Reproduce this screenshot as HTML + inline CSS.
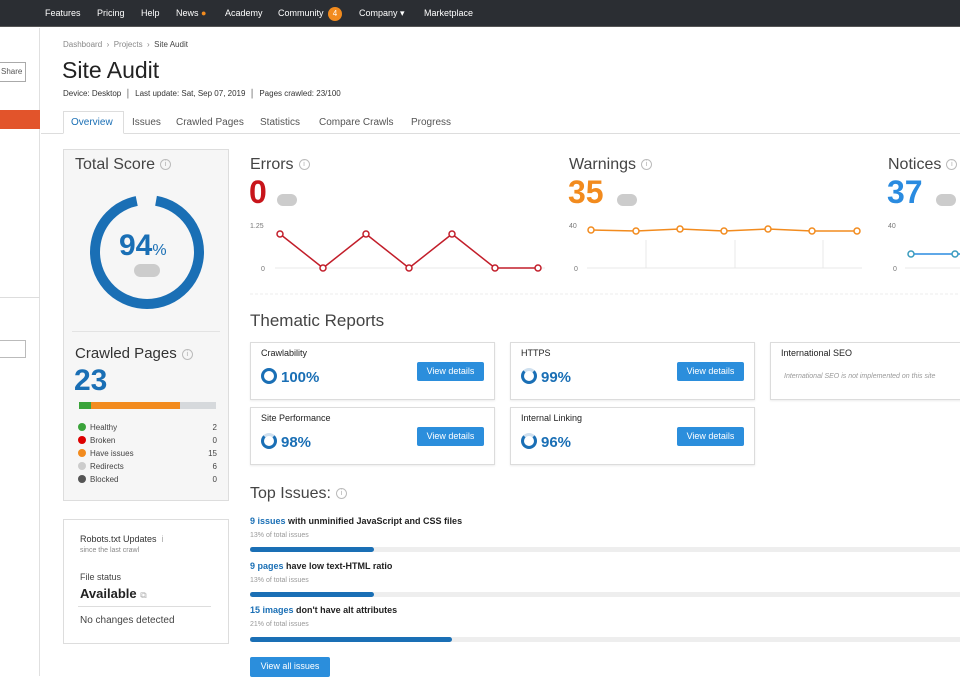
<!DOCTYPE html>
<html><head><meta charset="utf-8"><style>
*{margin:0;padding:0;box-sizing:border-box}
body{width:960px;height:676px;overflow:hidden;background:#fff;font-family:"Liberation Sans","DejaVu Sans",sans-serif;color:#333;position:relative}
.a{position:absolute;white-space:nowrap}
.nav{position:absolute;left:0;top:0;width:960px;height:27px;background:#2b2e33;border-bottom:1px solid #555}
.nav span{position:absolute;top:8px;color:#fff;font-size:9px}
.card{position:absolute;border:1px solid #dcdcdc;background:#fff;box-shadow:0 1px 2px rgba(0,0,0,.08)}
.btn{position:absolute;background:#2b8edc;color:#fff;font-size:9px;text-align:center;line-height:19px;border-radius:2px}
.info{display:inline-block;width:11px;height:11px;border:1px solid #bbb;border-radius:50%;font-size:7px;color:#aaa;text-align:center;line-height:9px;vertical-align:middle;margin-left:5px}
.pill{position:absolute;background:#ccc;border-radius:8px;width:20px;height:12px}
.ring{display:inline-block;width:16px;height:16px;border:3px solid #1a6fb5;border-radius:50%;vertical-align:-2px;margin-right:4px}
.tl{font-size:9px;color:#222}
.pct{font-size:15px;font-weight:bold;color:#1a6fb5}
.d{display:inline-block;width:8px;height:8px;border-radius:50%;margin-right:4px;vertical-align:-1px}
</style></head><body>
<div class="nav">
<span style="left:45px">Features</span><span style="left:97px">Pricing</span><span style="left:141px">Help</span><span style="left:176px">News <b style="color:#f28b1e">●</b></span><span style="left:225px">Academy</span><span style="left:278px">Community</span>
<span style="left:328px;top:7px;width:14px;height:14px;border-radius:50%;background:#f28b1e;font-size:8px;text-align:center;line-height:14px">4</span>
<span style="left:359px">Company ▾</span><span style="left:424px">Marketplace</span>
</div>
<div class="a" style="left:0;top:28px;width:40px;height:648px;background:#fff;border-right:1px solid #e0e0e0"></div>
<div class="a" style="left:-4px;top:62px;width:30px;height:20px;border:1px solid #aaa;font-size:8px;line-height:18px;padding-left:4px;color:#555">Share</div>
<div class="a" style="left:0;top:110px;width:40px;height:19px;background:#e2542b"></div>
<div class="a" style="left:0;top:297px;width:40px;border-top:1px solid #ddd"></div>
<div class="a" style="left:-2px;top:340px;width:28px;height:18px;border:1px solid #bbb"></div>

<div class="a" style="left:63px;top:40px;font-size:8px;color:#888">Dashboard &nbsp;›&nbsp; Projects &nbsp;›&nbsp; <span style="color:#444">Site Audit</span></div>
<div class="a" style="left:62px;top:57px;font-size:23px;color:#222">Site Audit</div>
<div class="a" style="left:63px;top:89px;font-size:8px;color:#333">Device: Desktop &nbsp;│&nbsp; Last update: Sat, Sep 07, 2019 &nbsp;│&nbsp; Pages crawled: 23/100</div>
<div class="a" style="left:41px;top:133px;width:919px;border-top:1px solid #ddd"></div>
<div class="a" style="left:63px;top:111px;width:61px;height:23px;border:1px solid #ddd;border-bottom:1px solid #fff;background:#fff"></div>
<div class="a" style="left:71px;top:117px;font-size:10px;color:#1a6fb5">Overview</div>
<div class="a" style="left:132px;top:117px;font-size:10px;color:#555">Issues</div>
<div class="a" style="left:176px;top:117px;font-size:10px;color:#555">Crawled Pages</div>
<div class="a" style="left:260px;top:117px;font-size:10px;color:#555">Statistics</div>
<div class="a" style="left:319px;top:117px;font-size:10px;color:#555">Compare Crawls</div>
<div class="a" style="left:411px;top:117px;font-size:10px;color:#555">Progress</div>

<div class="a" style="left:63px;top:149px;width:166px;height:352px;background:#f6f6f6;border:1px solid #ddd"></div>
<div class="a" style="left:75px;top:156px;font-size:16px;color:#444">Total Score<span class="info">i</span></div>
<svg class="a" style="left:85px;top:190px" width="124" height="124"><circle cx="62" cy="62" r="52" fill="none" stroke="#1a6fb5" stroke-width="10" stroke-dasharray="307 20" transform="rotate(-80 62 62)"/></svg>
<div class="a" style="left:119px;top:229px;font-size:30px;font-weight:bold;color:#1a6fb5">94<span style="font-size:16px;font-weight:normal">%</span></div>
<div class="pill" style="left:134px;top:264px;width:26px;height:13px"></div>
<div class="a" style="left:72px;top:331px;width:148px;border-top:1px solid #e3e3e3"></div>
<div class="a" style="left:75px;top:345px;font-size:15px;color:#333">Crawled Pages<span class="info">i</span></div>
<div class="a" style="left:74px;top:364px;font-size:30px;font-weight:bold;color:#1a6fb5">23</div>
<div class="a" style="left:79px;top:402px;width:137px;height:7px;background:#d6d9dc"></div>
<div class="a" style="left:79px;top:402px;width:12px;height:7px;background:#3aa33a"></div>
<div class="a" style="left:91px;top:402px;width:89px;height:7px;background:#f28b1e"></div>
<div class="a" style="left:78px;top:421px;font-size:8px;line-height:13px;color:#444">
<div><span class="d" style="background:#3aa33a"></span>Healthy</div><div><span class="d" style="background:#d00"></span>Broken</div><div><span class="d" style="background:#f28b1e"></span>Have issues</div><div><span class="d" style="background:#ccc"></span>Redirects</div><div><span class="d" style="background:#555"></span>Blocked</div></div>
<div class="a" style="left:205px;top:421px;font-size:8px;line-height:13px;color:#444;text-align:right;width:12px">2<br>0<br>15<br>6<br>0</div>

<div class="a" style="left:63px;top:519px;width:166px;height:125px;background:#fff;border:1px solid #ddd"></div>
<div class="a" style="left:80px;top:534px;font-size:9px;color:#333">Robots.txt Updates &nbsp;<span style="color:#aaa">i</span></div>
<div class="a" style="left:80px;top:547px;font-size:7px;color:#888">since the last crawl</div>
<div class="a" style="left:80px;top:572px;font-size:9px;color:#444">File status</div>
<div class="a" style="left:80px;top:586px;font-size:13px;font-weight:bold;color:#222">Available <span style="font-size:9px;color:#aaa;font-weight:normal">⧉</span></div>
<div class="a" style="left:78px;top:606px;width:133px;border-top:1px solid #ddd"></div>
<div class="a" style="left:80px;top:615px;font-size:10px;color:#444">No changes detected</div>

<div class="a" style="left:250px;top:156px;font-size:16px;color:#444">Errors<span class="info">i</span></div>
<div class="a" style="left:249px;top:174px;font-size:32px;font-weight:bold;color:#c8151b">0</div>
<div class="pill" style="left:277px;top:194px"></div>
<div class="a" style="left:569px;top:156px;font-size:16px;color:#444">Warnings<span class="info">i</span></div>
<div class="a" style="left:568px;top:174px;font-size:32px;font-weight:bold;color:#f28b1e">35</div>
<div class="pill" style="left:617px;top:194px"></div>
<div class="a" style="left:888px;top:156px;font-size:16px;color:#444">Notices<span class="info">i</span></div>
<div class="a" style="left:887px;top:174px;font-size:32px;font-weight:bold;color:#2a8be0">37</div>
<div class="pill" style="left:936px;top:194px"></div>
<svg class="a" style="left:0;top:0" width="960" height="300">
<g font-size="7" fill="#777" font-family="Liberation Sans">
<text x="250" y="228">1.25</text><text x="261" y="271">0</text>
<text x="569" y="228">40</text><text x="574" y="271">0</text>
<text x="888" y="228">40</text><text x="893" y="271">0</text></g>
<g stroke="#e8e8e8"><line x1="275" y1="268" x2="545" y2="268"/><line x1="587" y1="268" x2="862" y2="268"/><line x1="905" y1="268" x2="960" y2="268"/>
<line x1="646" y1="240" x2="646" y2="268"/><line x1="735" y1="240" x2="735" y2="268"/><line x1="823" y1="240" x2="823" y2="268"/></g>
<polyline fill="none" stroke="#c21e2a" stroke-width="1.5" points="280,234 323,268 366,234 409,268 452,234 495,268 538,268"/>
<g fill="#fff" stroke="#c21e2a" stroke-width="1.5"><circle cx="280" cy="234" r="3"/><circle cx="323" cy="268" r="3"/><circle cx="366" cy="234" r="3"/><circle cx="409" cy="268" r="3"/><circle cx="452" cy="234" r="3"/><circle cx="495" cy="268" r="3"/><circle cx="538" cy="268" r="3"/></g>
<polyline fill="none" stroke="#f28b1e" stroke-width="1.5" points="591,230 636,231 680,229 724,231 768,229 812,231 857,231"/>
<g fill="#fff" stroke="#f28b1e" stroke-width="1.5"><circle cx="591" cy="230" r="3"/><circle cx="636" cy="231" r="3"/><circle cx="680" cy="229" r="3"/><circle cx="724" cy="231" r="3"/><circle cx="768" cy="229" r="3"/><circle cx="812" cy="231" r="3"/><circle cx="857" cy="231" r="3"/></g>
<polyline fill="none" stroke="#2a8be0" stroke-width="1.5" points="911,254 955,254 960,254"/>
<g fill="#fff" stroke="#3a9bbd" stroke-width="1.5"><circle cx="911" cy="254" r="3"/><circle cx="955" cy="254" r="3"/></g>
<line x1="250" y1="294" x2="960" y2="294" stroke="#eee" stroke-dasharray="3 2"/>
</svg>

<div class="a" style="left:250px;top:311px;font-size:17px;color:#444">Thematic Reports</div>
<div class="card" style="left:250px;top:342px;width:245px;height:58px"></div>
<div class="a tl" style="left:261px;top:348px">Crawlability</div>
<div class="a pct" style="left:261px;top:368px"><span class="ring"></span>100%</div>
<div class="btn" style="left:417px;top:362px;width:67px">View details</div>
<div class="card" style="left:250px;top:407px;width:245px;height:58px"></div>
<div class="a tl" style="left:261px;top:413px">Site Performance</div>
<div class="a pct" style="left:261px;top:433px"><span class="ring" style="border-top-color:#cfe0ef"></span>98%</div>
<div class="btn" style="left:417px;top:427px;width:67px">View details</div>
<div class="card" style="left:510px;top:342px;width:245px;height:58px"></div>
<div class="a tl" style="left:521px;top:348px">HTTPS</div>
<div class="a pct" style="left:521px;top:368px"><span class="ring" style="border-top-color:#cfe0ef"></span>99%</div>
<div class="btn" style="left:677px;top:362px;width:67px">View details</div>
<div class="card" style="left:510px;top:407px;width:245px;height:58px"></div>
<div class="a tl" style="left:521px;top:413px">Internal Linking</div>
<div class="a pct" style="left:521px;top:433px"><span class="ring" style="border-top-color:#cfe0ef"></span>96%</div>
<div class="btn" style="left:677px;top:427px;width:67px">View details</div>
<div class="card" style="left:770px;top:342px;width:200px;height:58px"></div>
<div class="a tl" style="left:781px;top:348px">International SEO</div>
<div class="a" style="left:784px;top:373px;font-size:7px;font-style:italic;color:#999">International SEO is not implemented on this site</div>

<div class="a" style="left:250px;top:485px;font-size:16px;color:#444">Top Issues:<span class="info">i</span></div>
<div class="a" style="left:250px;top:516px;font-size:9px;font-weight:bold;color:#222"><span style="color:#1a6fb5">9 issues</span> with unminified JavaScript and CSS files</div>
<div class="a" style="left:250px;top:532px;font-size:7px;color:#999">13% of total issues</div>
<div class="a" style="left:250px;top:547px;width:710px;height:5px;background:#eee"></div>
<div class="a" style="left:250px;top:547px;width:124px;height:5px;background:#1a6fb5;border-radius:3px"></div>
<div class="a" style="left:250px;top:561px;font-size:9px;font-weight:bold;color:#222"><span style="color:#1a6fb5">9 pages</span> have low text-HTML ratio</div>
<div class="a" style="left:250px;top:577px;font-size:7px;color:#999">13% of total issues</div>
<div class="a" style="left:250px;top:592px;width:710px;height:5px;background:#eee"></div>
<div class="a" style="left:250px;top:592px;width:124px;height:5px;background:#1a6fb5;border-radius:3px"></div>
<div class="a" style="left:250px;top:605px;font-size:9px;font-weight:bold;color:#222"><span style="color:#1a6fb5">15 images</span> don't have alt attributes</div>
<div class="a" style="left:250px;top:621px;font-size:7px;color:#999">21% of total issues</div>
<div class="a" style="left:250px;top:637px;width:710px;height:5px;background:#eee"></div>
<div class="a" style="left:250px;top:637px;width:202px;height:5px;background:#1a6fb5;border-radius:3px"></div>
<div class="btn" style="left:250px;top:657px;width:80px;height:20px">View all issues</div>
</body></html>
